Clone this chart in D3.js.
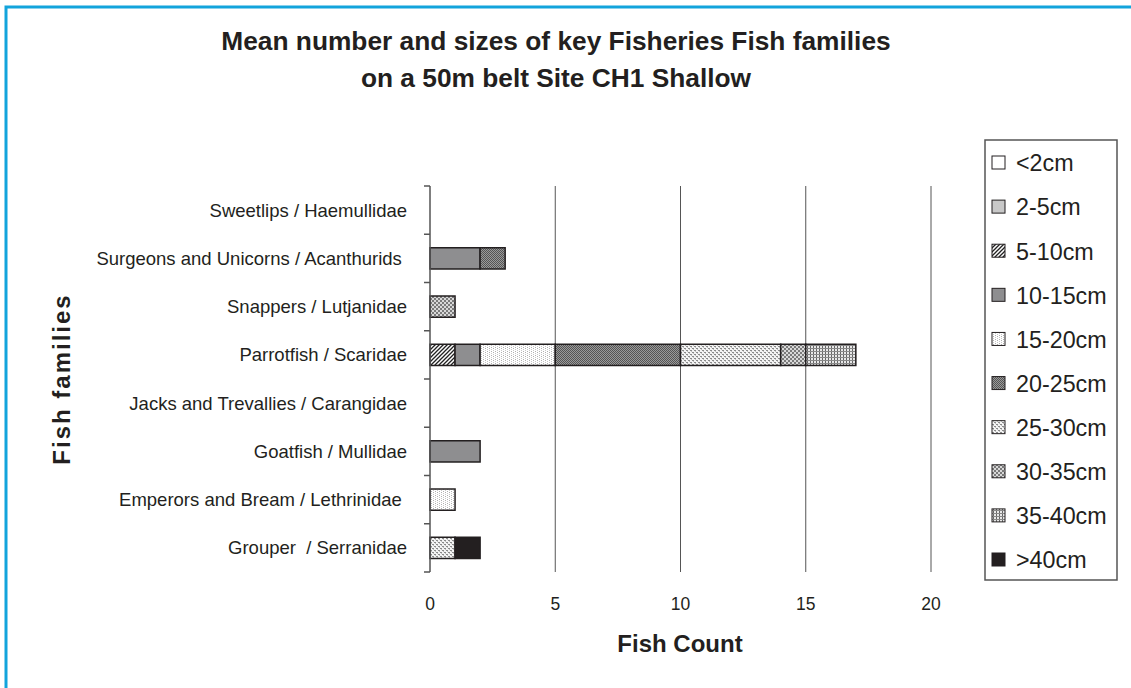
<!DOCTYPE html>
<html>
<head>
<meta charset="utf-8">
<script src="https://cdn.jsdelivr.net/npm/d3@7"></script>
<style>
body { margin: 0; background: #fff; }
svg { display: block; font-family: "Liberation Sans", Arial, sans-serif; }
</style>
</head>
<body>
<div id="chart"></div>
<script>
// Categories top to bottom
var families = ["Sweetlips / Haemullidae", "Surgeons and Unicorns / Acanthurids ", "Snappers / Lutjanidae",
    "Parrotfish / Scaridae", "Jacks and Trevallies / Carangidae", "Goatfish / Mullidae",
    "Emperors and Bream / Lethrinidae ", "Grouper  / Serranidae"];
var sizeClasses = ["<2cm", "2-5cm", "5-10cm", "10-15cm", "15-20cm", "20-25cm", "25-30cm", "30-35cm", "35-40cm", ">40cm"];
// counts per size class, one array per family (same order as families)
var sweetlips = [0, 0, 0, 0, 0, 0, 0, 0, 0, 0];
var surgeons  = [0, 0, 0, 2, 0, 1, 0, 0, 0, 0];
var snappers  = [0, 0, 0, 0, 0, 0, 0, 1, 0, 0];
var parrotfish= [0, 0, 1, 1, 3, 5, 4, 1, 2, 0];
var jacks     = [0, 0, 0, 0, 0, 0, 0, 0, 0, 0];
var goatfish  = [0, 0, 0, 2, 0, 0, 0, 0, 0, 0];
var emperors  = [0, 0, 0, 0, 1, 0, 0, 0, 0, 0];
var grouper   = [0, 0, 0, 0, 0, 0, 1, 0, 0, 1];
var xTicks = [0, 5, 10, 15, 20];

var counts = [sweetlips, surgeons, snappers, parrotfish, jacks, goatfish, emperors, grouper];

var W = 1131, H = 688;
var svg = d3.select("#chart").append("svg").attr("width", W).attr("height", H);

// blue frame (only top and left edges visible)
svg.append("rect").attr("x", 6).attr("y", 7).attr("width", W + 20).attr("height", H + 20)
    .attr("fill", "none").attr("stroke", "#12a4dc").attr("stroke-width", 3);

// patterns for size classes
var defs = svg.append("defs");
function pat(id, size, build) {
    var p = defs.append("pattern").attr("id", id).attr("patternUnits", "userSpaceOnUse")
        .attr("width", size).attr("height", size);
    build(p);
}
function px(p, xx, yy, w, h, c) {
    p.append("rect").attr("x", xx).attr("y", yy).attr("width", w).attr("height", h).attr("fill", c);
}
pat("p510", 4, function(p) {
    px(p, 0, 0, 4, 4, "#fff");
    p.append("path").attr("d", "M-1,1 L1,-1 M0,4 L4,0 M3,5 L5,3").attr("stroke", "#222").attr("stroke-width", 1.3);
});
pat("p1520", 4, function(p) {
    px(p, 0, 0, 4, 4, "#fff");
    px(p, 1, 0, 1, 1, "#b0b0b0");
    px(p, 1, 2, 1, 1, "#c8c8c8");
    px(p, 3, 1, 1, 1, "#c8c8c8");
    px(p, 3, 3, 1, 1, "#b0b0b0");
});
pat("p2025", 2, function(p) {
    px(p, 0, 0, 2, 2, "#9a9a9a");
    px(p, 0, 0, 1, 1, "#555");
    px(p, 1, 1, 1, 1, "#555");
});
pat("p2530", 4, function(p) {
    px(p, 0, 0, 4, 4, "#f4f4f4");
    px(p, 0, 0, 2, 1, "#8a8a8a");
    px(p, 2, 2, 2, 1, "#8a8a8a");
    px(p, 1, 1, 1, 1, "#c0c0c0");
    px(p, 3, 3, 1, 1, "#c0c0c0");
});
pat("p3035", 4, function(p) {
    px(p, 0, 0, 4, 4, "#d8d8d8");
    px(p, 0, 0, 2, 2, "#7a7a7a");
    px(p, 2, 2, 2, 2, "#7a7a7a");
});
pat("p3540", 3, function(p) {
    px(p, 0, 0, 3, 3, "#e8e8e8");
    px(p, 0, 0, 1, 3, "#666");
    px(p, 0, 0, 3, 1, "#888");
});

var fills = ["#ffffff", "#c8c8c8", "url(#p510)", "#8e8e90", "url(#p1520)", "url(#p2025)",
    "url(#p2530)", "url(#p3035)", "url(#p3540)", "#231f20"];

// plot area
var plotL = 430, plotR = 931, plotT = 186, plotB = 572;
var x = d3.scaleLinear().domain([0, 20]).range([plotL, plotR]);
var y = d3.scaleBand().domain(families).range([plotT, plotB]).paddingInner(0.56).paddingOuter(0.28);

// gridlines
svg.append("g").selectAll("line").data(xTicks.slice(1)).enter().append("line")
    .attr("x1", function(d) { return x(d); }).attr("x2", function(d) { return x(d); })
    .attr("y1", plotT).attr("y2", plotB)
    .attr("stroke", "#555").attr("stroke-width", 1);

// stacked bars
var stackData = families.map(function(f, i) {
    var row = { family: f };
    sizeClasses.forEach(function(s, j) { row[s] = counts[i][j]; });
    return row;
});
var series = d3.stack().keys(sizeClasses)(stackData);

svg.append("g").selectAll("g").data(series).enter().append("g")
    .attr("fill", function(d, i) { return fills[i]; })
    .selectAll("rect").data(function(d) { return d.filter(function(v) { return v[1] > v[0]; }); })
    .enter().append("rect")
    .attr("x", function(d) { return x(d[0]); })
    .attr("width", function(d) { return x(d[1]) - x(d[0]); })
    .attr("y", function(d) { return y(d.data.family); })
    .attr("height", y.bandwidth())
    .attr("stroke", "#231f20").attr("stroke-width", 1.5);

// y axis
var yBounds = d3.range(families.length + 1).map(function(i) { return plotT + i * (plotB - plotT) / families.length; });
svg.append("line").attr("x1", plotL).attr("x2", plotL).attr("y1", plotT).attr("y2", plotB)
    .attr("stroke", "#555").attr("stroke-width", 1.5);
svg.append("g").selectAll("line").data(yBounds).enter().append("line")
    .attr("x1", plotL - 6).attr("x2", plotL).attr("y1", function(d) { return d; }).attr("y2", function(d) { return d; })
    .attr("stroke", "#555").attr("stroke-width", 1.5);
svg.append("g").selectAll("text").data(families).enter().append("text")
    .attr("x", plotL - 23).attr("y", function(d) { return y(d) + y.bandwidth() / 2; })
    .attr("dy", "0.35em").attr("text-anchor", "end")
    .attr("font-size", 18.5).attr("fill", "#231f20").style("white-space", "pre")
    .text(function(d) { return d; });

// x axis labels
svg.append("g").selectAll("text").data(xTicks).enter().append("text")
    .attr("x", function(d) { return x(d); }).attr("y", plotB + 38)
    .attr("text-anchor", "middle").attr("font-size", 17.5).attr("fill", "#231f20")
    .text(function(d) { return d; });

// axis titles
svg.append("text").attr("x", 680).attr("y", 652).attr("text-anchor", "middle")
    .attr("font-size", 24).attr("font-weight", "bold").attr("fill", "#231f20").text("Fish Count");
svg.append("text").attr("transform", "translate(70,379) rotate(-90)").attr("text-anchor", "middle")
    .attr("font-size", 24).attr("font-weight", "bold").attr("letter-spacing", 2).attr("fill", "#231f20").text("Fish families");

// title
svg.append("text").attr("x", 556).attr("y", 50).attr("text-anchor", "middle")
    .attr("font-size", 26.3).attr("font-weight", "bold").attr("fill", "#231f20")
    .text("Mean number and sizes of key Fisheries Fish families");
svg.append("text").attr("x", 556).attr("y", 87).attr("text-anchor", "middle")
    .attr("font-size", 26.3).attr("font-weight", "bold").attr("fill", "#231f20")
    .text("on a 50m belt Site CH1 Shallow");

// legend
var lg = svg.append("g");
lg.append("rect").attr("x", 985).attr("y", 140).attr("width", 132).attr("height", 440)
    .attr("fill", "#fff").attr("stroke", "#555").attr("stroke-width", 1.5);
var ly = d3.scalePoint().domain(sizeClasses).range([163, 560]);
lg.selectAll("rect.sw").data(sizeClasses).enter().append("rect").attr("class", "sw")
    .attr("x", 992).attr("y", function(d) { return ly(d) - 7; })
    .attr("width", 13).attr("height", 13)
    .attr("fill", function(d, i) { return fills[i]; })
    .attr("stroke", "#231f20").attr("stroke-width", 1);
lg.selectAll("text").data(sizeClasses).enter().append("text")
    .attr("x", 1016).attr("y", function(d) { return ly(d); }).attr("dy", "0.36em")
    .attr("font-size", 23.3).attr("fill", "#231f20")
    .text(function(d) { return d; });
</script>
</body>
</html>
